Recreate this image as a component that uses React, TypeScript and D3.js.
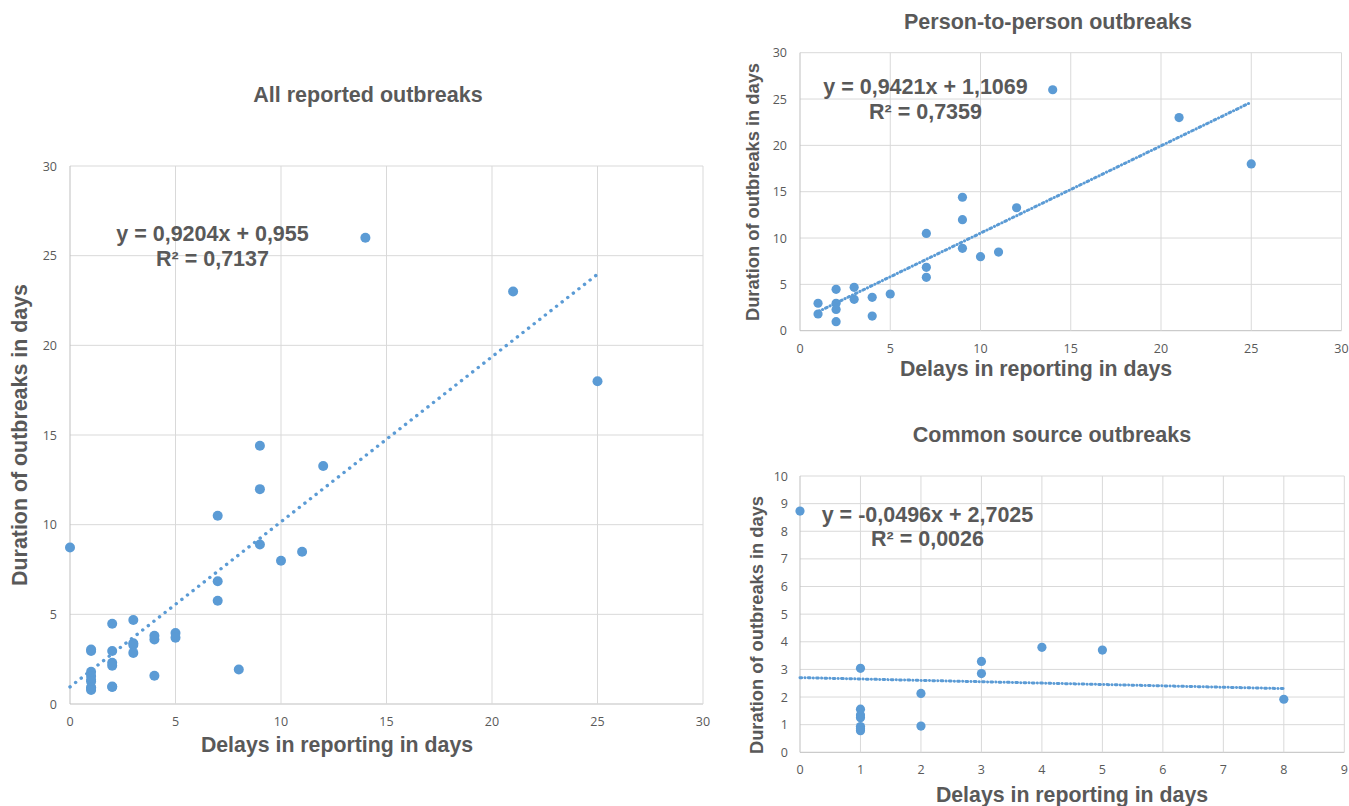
import React from "react";
import * as d3 from "d3";

// Person-to-person outbreaks
const p2pDelay = [1, 1, 2, 2, 2, 2, 3, 3, 4, 4, 5, 7, 7, 7, 9, 9, 9, 10, 11, 12, 14, 21, 25];
const p2pDuration = [2.96, 1.8, 4.47, 2.96, 2.3, 0.97, 4.68, 3.39, 3.6, 1.58, 3.96, 10.5, 6.84, 5.76, 14.4, 11.98, 8.89, 7.99, 8.49, 13.27, 26, 23, 18];

// Common source outbreaks
const csDelay = [0, 1, 1, 1, 1, 1, 1, 1, 2, 2, 3, 3, 4, 5, 8];
const csDuration = [8.73, 3.04, 1.56, 1.35, 1.25, 0.93, 0.85, 0.78, 2.13, 0.95, 3.29, 2.85, 3.8, 3.7, 1.92];

// All reported = both groups
const allDelay = [...p2pDelay, ...csDelay];
const allDuration = [...p2pDuration, ...csDuration];

// Trend line coefficients as printed on the chart [slope, intercept]
const allTrend = [0.9204, 0.955];
const p2pTrend = [0.9421, 1.1069];
const csTrend = [-0.0496, 2.7025];

const allEq = ["y = 0,9204x + 0,955", "R² = 0,7137"];
const p2pEq = ["y = 0,9421x + 1,1069", "R² = 0,7359"];
const csEq = ["y = -0,0496x + 2,7025", "R² = 0,0026"];

const titles = ["All reported outbreaks", "Person-to-person outbreaks", "Common source outbreaks"];
const xTitle = "Delays in reporting in days";
const yTitle = "Duration of outbreaks in days";

const BLUE = "#5B9BD5";
const TEXT = "#595959";
const GRID = "#d9d9d9";
const BOLD = "'Liberation Sans', Arial, sans-serif";
const TICKF = "'Open Sans', 'Liberation Sans', sans-serif";

type PanelProps = {
  box: [number, number, number, number];
  xMax: number;
  yMax: number;
  xStep: number;
  yStep: number;
  xs: number[];
  ys: number[];
  trend: number[];
  eq: string[];
  title: string;
  titlePos: [number, number];
  eqPos: [number, number, number];
  xTitlePos: [number, number];
  yTitlePos: [number, number];
  yTitleSize: number;
  r: number;
  dash: string;
  trendWidth: number;
  yTickEnd: number;
  xTickBase: number;
};

function Panel(p: PanelProps) {
  const [x0, x1, yTop, yBot] = p.box;
  const x = d3.scaleLinear().domain([0, p.xMax]).range([x0, x1]);
  const y = d3.scaleLinear().domain([0, p.yMax]).range([yBot, yTop]);
  const xt = d3.range(0, p.xMax + 0.001, p.xStep);
  const yt = d3.range(0, p.yMax + 0.001, p.yStep);
  const tx0 = d3.min(p.xs) as number;
  const tx1 = d3.max(p.xs) as number;
  const line = d3
    .line<number>()
    .x((v) => x(v))
    .y((v) => y(p.trend[0] * v + p.trend[1]));
  return (
    <g>
      {yt.map((v) => (
        <line key={"gy" + v} x1={x0} x2={x1} y1={y(v)} y2={y(v)} stroke={v === 0 ? "#bfbfbf" : GRID} strokeWidth={1} />
      ))}
      {xt.map((v) => (
        <line key={"gx" + v} x1={x(v)} x2={x(v)} y1={yTop} y2={yBot} stroke={v === 0 ? "#bfbfbf" : GRID} strokeWidth={1} />
      ))}
      {yt.map((v) => (
        <text key={"ty" + v} x={p.yTickEnd} y={y(v) + 4.5} textAnchor="end" fontSize={12.5} fill={TEXT} fontFamily={TICKF}>
          {v}
        </text>
      ))}
      {xt.map((v) => (
        <text key={"tx" + v} x={x(v)} y={p.xTickBase} textAnchor="middle" fontSize={12.5} fill={TEXT} fontFamily={TICKF}>
          {v}
        </text>
      ))}
      {p.xs.map((v, i) => (
        <circle key={"p" + i} cx={x(v)} cy={y(p.ys[i])} r={p.r} fill={BLUE} />
      ))}
      <path
        d={line([tx0, tx1]) || ""}
        fill="none"
        stroke={BLUE}
        strokeWidth={p.trendWidth}
        strokeDasharray={p.dash}
        strokeLinecap="round"
      />
      <text x={p.titlePos[0]} y={p.titlePos[1]} textAnchor="middle" fontSize={21.5} fontWeight="bold" fill={TEXT} fontFamily={BOLD}>
        {p.title}
      </text>
      <text x={p.eqPos[0]} y={p.eqPos[1]} textAnchor="middle" fontSize={21.5} fontWeight="bold" fill={TEXT} fontFamily={BOLD}>
        {p.eq[0]}
      </text>
      <text x={p.eqPos[0]} y={p.eqPos[2]} textAnchor="middle" fontSize={21.5} fontWeight="bold" fill={TEXT} fontFamily={BOLD}>
        {p.eq[1]}
      </text>
      <text x={p.xTitlePos[0]} y={p.xTitlePos[1]} textAnchor="middle" fontSize={21.3} fontWeight="bold" fill={TEXT} fontFamily={BOLD}>
        {xTitle}
      </text>
      <text
        transform={`translate(${p.yTitlePos[0]},${p.yTitlePos[1]}) rotate(-90)`}
        textAnchor="middle"
        fontSize={p.yTitleSize}
        fontWeight="bold"
        fill={TEXT}
        fontFamily={BOLD}
      >
        {yTitle}
      </text>
    </g>
  );
}

export default function App() {
  return (
    <svg width={1349} height={806} style={{ position: "absolute", left: 0, top: 0, background: "#fff" }}>
      <Panel
        box={[70, 703, 166, 704]}
        xMax={30}
        yMax={30}
        xStep={5}
        yStep={5}
        xs={allDelay}
        ys={allDuration}
        trend={allTrend}
        eq={allEq}
        title={titles[0]}
        titlePos={[368, 102]}
        eqPos={[212.5, 241, 266]}
        xTitlePos={[337, 752]}
        yTitlePos={[27, 435]}
        yTitleSize={21.4}
        r={5}
        dash="0.1 7"
        trendWidth={3.4}
        yTickEnd={57}
        xTickBase={726}
      />
      <Panel
        box={[800, 1341.5, 52.7, 330.7]}
        xMax={30}
        yMax={30}
        xStep={5}
        yStep={5}
        xs={p2pDelay}
        ys={p2pDuration}
        trend={p2pTrend}
        eq={p2pEq}
        title={titles[1]}
        titlePos={[1048, 29]}
        eqPos={[925.5, 93.5, 118.5]}
        xTitlePos={[1036, 376]}
        yTitlePos={[758.5, 192]}
        yTitleSize={18.3}
        r={4.6}
        dash="1.8 3.2 0.1 3.2"
        trendWidth={3}
        yTickEnd={787}
        xTickBase={353}
      />
      <Panel
        box={[800, 1344.3, 476, 752.3]}
        xMax={9}
        yMax={10}
        xStep={1}
        yStep={1}
        xs={csDelay}
        ys={csDuration}
        trend={csTrend}
        eq={csEq}
        title={titles[2]}
        titlePos={[1052, 442]}
        eqPos={[927.5, 521.5, 545.5]}
        xTitlePos={[1072, 802]}
        yTitlePos={[763, 625]}
        yTitleSize={18.3}
        r={4.6}
        dash="1.8 3.2 0.1 3.2"
        trendWidth={3}
        yTickEnd={788}
        xTickBase={774}
      />
    </svg>
  );
}
